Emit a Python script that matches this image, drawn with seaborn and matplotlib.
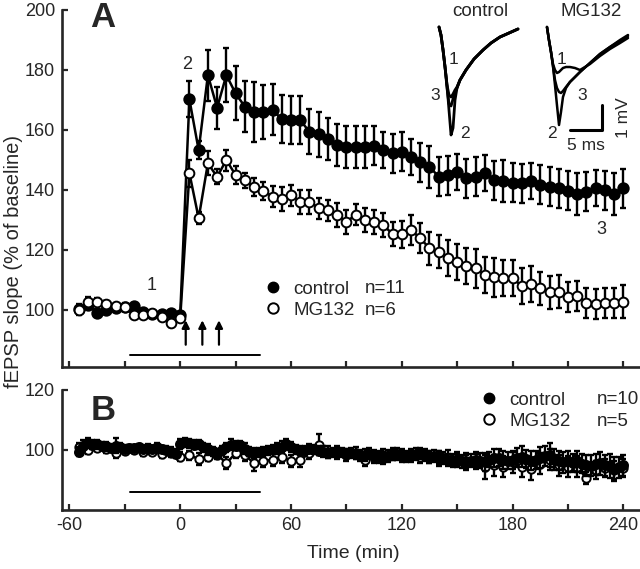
import numpy as np
import matplotlib
matplotlib.use("Agg")
import matplotlib.pyplot as plt
from matplotlib.lines import Line2D
import seaborn as sns

sns.set_style("ticks")
plt.rcParams["font.family"] = ["Liberation Sans", "DejaVu Sans"]
plt.rcParams["axes.linewidth"] = 1.9

# ---------------- panel A (5-min bins) ----------------
time_a = np.concatenate([np.arange(-55, 1, 5), np.arange(5, 241, 5)])
ctrl_a = [100.5, 101.7, 99.1, 100.0, 100.8, 101.0, 101.2, 99.5, 98.8, 98.6, 98.9, 98.2,
          170.2, 153.3, 178.3, 167.4, 178.3, 172.2, 167.8, 166.1, 166.1, 166.7,
          163.6, 163.3, 163.3, 159.4, 158.6, 157.0, 155.0, 154.4, 154.4, 154.4,
          154.8, 153.3, 152.2, 152.8, 151.1, 149.2, 147.8, 144.4, 145.0, 146.1,
          143.9, 144.5, 145.6, 143.3, 143.0, 142.5, 142.2, 143.0, 141.7, 141.1,
          140.6, 139.7, 138.6, 139.4, 140.6, 140.0, 138.6, 140.6]
ctrl_a_sem = [1.5, 1.5, 1.2, 1.2, 1.0, 1.2, 1.2, 1.0, 1.0, 1.2, 1.0, 1.2,
              6.0, 3.0, 8.5, 7.0, 9.0, 9.0, 8.5, 10.0, 9.0, 8.5,
              8.0, 8.0, 8.0, 7.5, 7.5, 7.0, 7.0, 7.0, 7.0, 7.0,
              6.5, 6.0, 6.5, 6.5, 6.0, 6.5, 7.0, 6.5, 6.5, 6.0,
              6.5, 6.5, 6.0, 6.5, 7.0, 6.5, 6.5, 6.0, 6.5, 6.5,
              6.5, 6.5, 7.0, 6.5, 6.0, 6.5, 7.0, 6.5]
mg_a = [100.0, 102.8, 102.8, 102.0, 101.3, 100.9, 98.3, 98.3, 98.9, 97.8, 95.6, 97.2,
        145.6, 130.6, 148.9, 144.4, 150.0, 145.0, 143.3, 140.9, 139.8, 137.8,
        136.9, 138.3, 136.1, 136.1, 134.0, 133.3, 131.7, 129.4, 131.7, 130.0,
        129.4, 128.3, 125.3, 125.3, 126.7, 123.9, 120.6, 119.4, 117.2, 116.1,
        114.7, 113.9, 111.7, 111.0, 110.6, 110.6, 108.0, 108.6, 107.2, 106.0,
        106.1, 104.4, 104.8, 102.5, 102.1, 102.5, 102.2, 102.8]
mg_a_sem = [1.5, 1.5, 1.2, 1.0, 0.8, 1.0, 1.0, 1.0, 0.8, 1.0, 1.2, 1.0,
            4.5, 2.0, 4.0, 2.5, 3.5, 3.0, 2.5, 3.0, 3.0, 3.5,
            4.0, 3.5, 4.0, 4.0, 3.5, 3.5, 4.0, 4.0, 3.5, 4.0,
            4.0, 4.0, 4.0, 4.5, 5.0, 5.0, 5.5, 5.5, 6.0, 6.0,
            6.0, 6.5, 6.0, 6.5, 6.0, 6.0, 6.0, 6.0, 5.5, 5.5,
            5.5, 5.0, 5.0, 5.0, 5.0, 5.0, 5.0, 5.5]

# ---------------- panel B ----------------
time_b_ctrl = np.arange(-55, 241, 2.5)
ctrl_b = [99.5, 101.5, 102.5, 101.8, 102.0, 101.5, 101.2, 100.8, 101.5, 101.0,
          100.5, 100.8, 100.6, 101.0, 100.4, 100.8, 100.2, 100.9, 100.3, 100.0,
          99.5, 98.8, 102.0, 102.6, 102.2, 101.8, 102.0, 101.0, 100.2, 99.6,
          99.0, 100.0, 101.0, 101.8, 101.5, 101.6, 100.5, 99.5, 99.0, 99.2,
          99.6, 100.0, 100.2, 100.5, 101.0, 102.0, 101.0, 100.2, 99.8, 100.0,
          100.5, 100.2, 99.8, 99.5, 99.0, 99.2, 99.6, 99.2, 98.8, 99.0,
          98.6, 98.2, 98.5, 98.8, 98.2, 97.6, 97.2, 98.0, 98.5, 98.6,
          98.0, 97.8, 98.2, 98.6, 98.9, 98.4, 97.8, 98.0, 97.6, 97.2,
          96.8, 96.5, 96.8, 96.2, 96.0, 96.4, 96.8, 96.5, 96.0, 96.8,
          97.2, 97.5, 96.6, 96.4, 96.8, 97.5, 97.8, 97.0, 96.5, 96.8,
          97.4, 98.0, 98.2, 97.0, 96.4, 96.0, 96.2, 95.8, 96.2, 95.5,
          95.0, 94.8, 95.2, 95.6, 95.0, 94.6, 93.8, 94.2, 95.0]
ctrl_b_sem = [1.5, 1.8, 1.5, 1.5, 1.5, 1.2, 1.5, 1.2, 2.5, 1.2,
              1.2, 1.0, 1.2, 1.0, 1.2, 1.2, 1.0, 1.5, 1.2, 1.2,
              1.5, 1.5, 1.8, 1.5, 1.5, 1.5, 1.5, 1.5, 1.8, 1.5,
              1.5, 1.5, 1.5, 1.8, 1.5, 1.5, 1.8, 1.5, 1.8, 1.5,
              1.5, 1.5, 1.5, 1.8, 2.0, 1.8, 1.8, 1.5, 1.5, 1.5,
              1.5, 1.5, 1.5, 1.8, 1.5, 1.5, 1.8, 1.5, 1.5, 1.8,
              1.5, 1.8, 2.0, 1.8, 1.8, 2.0, 1.8, 2.0, 1.8, 2.0,
              2.0, 1.8, 2.0, 2.0, 1.8, 2.0, 2.0, 2.0, 2.2, 2.0,
              2.0, 2.2, 2.0, 2.2, 2.5, 2.2, 2.5, 2.5, 3.0, 2.5,
              3.0, 2.8, 3.0, 2.8, 3.0, 3.2, 3.5, 3.0, 3.2, 3.0,
              3.5, 3.2, 4.0, 3.5, 3.2, 3.5, 3.5, 3.0, 3.5, 3.2,
              3.5, 3.5, 3.5, 3.8, 3.5, 4.0, 4.0, 3.5, 3.5]
time_b_mg = np.arange(-55, 241, 5)
mg_b = [101.0, 100.0, 100.8, 100.2, 98.9, 99.8, 100.0, 99.2, 99.4, 98.6,
        99.0, 97.8, 98.3, 97.0, 97.8, 98.5, 95.6, 98.9, 98.3, 95.6,
        96.4, 96.7, 97.8, 96.4, 96.7, 98.9, 101.7, 99.5, 99.0, 98.3,
        99.0, 96.7, 97.8, 98.5, 98.8, 98.3, 98.0, 97.6, 97.8, 97.2,
        97.5, 97.0, 96.5, 96.2, 94.4, 95.0, 94.4, 96.0, 94.4, 93.6,
        95.5, 96.7, 95.0, 94.4, 94.4, 90.6, 93.3, 94.0, 93.5, 94.0]
mg_b_sem = [1.5, 1.2, 1.0, 1.2, 1.5, 1.0, 1.0, 1.2, 1.0, 1.2,
            1.2, 1.5, 1.5, 2.0, 1.5, 1.5, 2.0, 1.5, 2.0, 2.5,
            2.0, 2.0, 2.0, 2.0, 2.5, 2.0, 3.5, 2.0, 2.0, 2.0,
            2.0, 2.0, 2.0, 2.0, 2.0, 2.0, 2.0, 2.0, 2.0, 2.5,
            2.5, 2.5, 2.5, 2.5, 4.0, 3.5, 3.5, 3.5, 3.5, 3.5,
            3.5, 3.5, 3.5, 3.5, 3.5, 2.0, 3.0, 3.0, 3.0, 3.0]

drug_on, drug_off = -27, 43
tetanus_times = [3, 12, 21]

# ---------------- example fEPSP traces (ms, mV from trace onset) ----------------
ctrl_trace_ms = [0, 0.31, 0.63, 0.94, 1.25, 1.56, 1.88, 2.19, 2.5, 2.81, 3.28, 4.22,
                 5.47, 6.88, 8.13, 9.53, 10.94, 12.34]
ctrl_trace1 = [0, -0.32, -0.92, -1.6, -2.32, -2.72, -2.8, -2.68, -2.52, -2.4, -2.12, -1.72,
               -1.28, -0.92, -0.64, -0.4, -0.24, -0.08]
ctrl_trace2 = [0, -0.32, -0.92, -1.6, -2.32, -3.32, -4.32, -4.04, -2.92, -2.44, -2.12, -1.72,
               -1.28, -0.92, -0.64, -0.4, -0.24, -0.08]
ctrl_trace3 = [0, -0.32, -0.92, -1.6, -2.44, -3.08, -3.16, -2.88, -2.6, -2.44, -2.12, -1.72,
               -1.28, -0.92, -0.64, -0.4, -0.24, -0.08]
mg_trace_ms = [0, 0.31, 0.63, 0.94, 1.25, 1.56, 1.88, 2.19, 2.5, 2.97, 3.59, 4.38,
               5.16, 6.72, 8.28, 9.84, 11.41, 12.66]
mg_trace1 = [0, -0.52, -1.0, -1.48, -1.72, -1.84, -1.8, -1.72, -1.64, -1.6, -1.6, -1.64,
             -1.72, -1.48, -1.16, -0.88, -0.64, -0.44]
mg_trace2 = [0, -0.52, -1.0, -1.56, -2.32, -3.12, -3.92, -3.4, -2.8, -2.44, -2.2, -2.0,
             -1.8, -1.44, -1.08, -0.8, -0.52, -0.32]
mg_trace3 = [0, -0.52, -1.0, -1.56, -2.12, -2.44, -2.6, -2.64, -2.56, -2.4, -2.2, -2.0,
             -1.8, -1.44, -1.08, -0.8, -0.56, -0.36]

W, H = 640, 569
fig = plt.figure(figsize=(W / 100, H / 100), dpi=100)
axA = fig.add_axes([62 / W, (H - 367) / H, (W - 62) / W, (367 - 10) / H])
axB = fig.add_axes([62 / W, (H - 510) / H, (W - 62) / W, (510 - 390) / H])


def draw_series(ax, t, y, sem, filled, ms, z):
    face = "black" if filled else "white"
    ax.errorbar(t, y, yerr=sem, fmt="none", ecolor="black", elinewidth=1.7,
                capsize=2.2, capthick=1.7, zorder=z)
    sns.lineplot(x=t, y=y, ax=ax, color="black", linewidth=1.8, marker="o",
                 markersize=ms, markerfacecolor=face, markeredgecolor="black",
                 markeredgewidth=1.4, zorder=z + 0.5)


draw_series(axA, time_a, ctrl_a, ctrl_a_sem, True, 7.5, 3)
draw_series(axA, time_a, mg_a, mg_a_sem, False, 7, 4)
draw_series(axB, time_b_mg, mg_b, mg_b_sem, False, 6, 3)
draw_series(axB, time_b_ctrl, ctrl_b, ctrl_b_sem, True, 6.5, 4)

axA.plot([drug_on, drug_off], [85, 85], color="black", lw=1.4)
axB.plot([drug_on, drug_off], [86, 86], color="black", lw=1.4)
for tt in tetanus_times:
    axA.annotate("", xy=(tt, 97.5), xytext=(tt, 87.5),
                 arrowprops=dict(arrowstyle="-|>", color="black", lw=1.6, mutation_scale=11))

for ax in (axA, axB):
    ax.set_xlim(-64, 249)
    ax.set_xticks(np.arange(-60, 241, 30))
    ax.tick_params(direction="in", length=4, width=1.6, labelsize=13, pad=5)
    ax.set_xlabel("")
    ax.set_ylabel("")
    ax.set_facecolor("none")
    sns.despine(ax=ax)

axA.set_ylim(81, 200)
axA.set_yticks([100, 120, 140, 160, 180, 200])
axA.set_xticklabels([])
axB.set_ylim(80, 120)
axB.set_yticks([100, 120])
axB.set_xticklabels([str(v) if v % 60 == 0 else "" for v in range(-60, 241, 30)])

axA.text(0.071, 0.979, "A", transform=axA.transAxes, fontsize=25, fontweight="bold",
         ha="center", va="center")
axB.text(0.072, 0.825, "B", transform=axB.transAxes, fontsize=25, fontweight="bold",
         ha="center", va="center")
axA.text(-15.3, 108.3, "1", fontsize=13, ha="center", va="center")
axA.text(3.5, 181.7, "2", fontsize=13, ha="center", va="center")
axA.text(227.8, 126.7, "3", fontsize=13, ha="center", va="center")


# legends
def legend(ax, x0, yc, xn, rows, n_labels):
    handles = [Line2D([], [], ls="none", marker="o", color="black", markersize=7.5,
                      markerfacecolor="black"),
               Line2D([], [], ls="none", marker="o", color="black", markersize=7.5,
                      markerfacecolor="white", markeredgewidth=1.4)]
    ax.legend(handles, ["control", "MG132"], loc="center left", bbox_to_anchor=(x0, yc),
              frameon=False, borderpad=0, borderaxespad=0, handlelength=1.0,
              handletextpad=0.6, labelspacing=0.2, fontsize=13.5)
    for yy, lab in zip(rows, n_labels):
        ax.text(xn, yy, lab, transform=ax.transAxes, fontsize=13.5, va="center")


legend(axA, 0.348, 0.189, 0.524, [0.221, 0.157], ["n=11", "n=6"])
legend(axB, 0.722, 0.827, 0.925, [0.917, 0.736], ["n=10", "n=5"])

fig.text(14 / W, 1 - 262 / H, "fEPSP slope (% of baseline)", rotation=90,
         fontsize=14.5, ha="center", va="center")
fig.text(353 / W, 1 - 553 / H, "Time (min)", fontsize=14, ha="center", va="center")

# inset traces
axI = fig.add_axes([420 / W, 1 - 150 / H, 220 / W, 150 / H])
axI.set_xlim(0, 220 * 5 / 32)
axI.set_ylim(-150 / 25, 0)
axI.axis("off")
axI.patch.set_alpha(0)
c0, m0, v0 = 2.97, 19.84, -1.08
for tr in (ctrl_trace1, ctrl_trace2, ctrl_trace3):
    axI.plot(np.array(ctrl_trace_ms) + c0, np.array(tr) + v0, color="black", lw=2.0)
for tr in (mg_trace1, mg_trace2, mg_trace3):
    axI.plot(np.array(mg_trace_ms) + m0, np.array(tr) + v0, color="black", lw=1.8)
axI.plot([23.44, 28.44, 28.44], [-5.2, -5.2, -4.2], color="black", lw=2.2)
axI.text(25.9, -5.8, "5 ms", fontsize=12.5, ha="center", va="center")
axI.text(31.8, -4.7, "1 mV", fontsize=12.5, ha="center", va="center", rotation=90)
axI.text(9.4, -0.48, "control", fontsize=13.5, ha="center", va="center")
axI.text(26.7, -0.48, "MG132", fontsize=13.5, ha="center", va="center")
for x, y, s in [(5.16, -2.4, "1"), (2.34, -3.8, "3"), (7.03, -5.32, "2"),
                (22.1, -2.4, "1"), (25.3, -3.8, "3"), (20.6, -5.32, "2")]:
    axI.text(x, y, s, fontsize=12.5, ha="center", va="center")

fig.savefig("out.png", dpi=100)
